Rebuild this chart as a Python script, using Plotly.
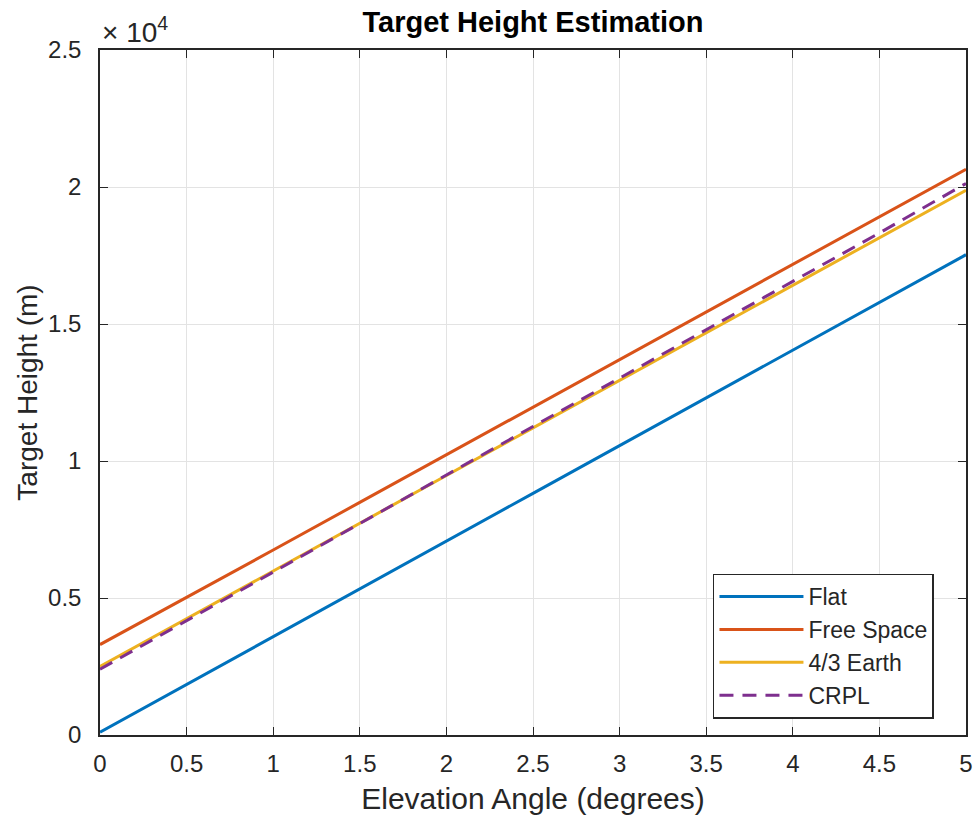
import plotly.graph_objects as go

elevation = [0, 0.5, 1, 1.5, 2, 2.5, 3, 3.5, 4, 4.5, 5]
flat = [100, 1850, 3590, 5340, 7080, 8820, 10560, 12300, 14040, 15770, 17530]
free_space = [3300, 5010, 6750, 8490, 10230, 11970, 13710, 15440, 17180, 18910, 20650]
earth43 = [2500, 4250, 5990, 7730, 9470, 11210, 12950, 14680, 16420, 18150, 19880]
crpl = [2400, 4180, 5950, 7720, 9490, 11260, 13030, 14800, 16560, 18320, 20130]

x_ticks = [0, 0.5, 1, 1.5, 2, 2.5, 3, 3.5, 4, 4.5, 5]
x_ticklabels = ["0", "0.5", "1", "1.5", "2", "2.5", "3", "3.5", "4", "4.5", "5"]
y_ticks = [0, 5000, 10000, 15000, 20000, 25000]
y_ticklabels = ["0", "0.5", "1", "1.5", "2", "2.5"]

FONT = "Liberation Sans, Arial, Helvetica, sans-serif"
AX = "#262626"

fig = go.Figure()
series = [
    ("Flat", flat, "#0072BD", "solid"),
    ("Free Space", free_space, "#D95319", "solid"),
    ("4/3 Earth", earth43, "#EDB120", "solid"),
    ("CRPL", crpl, "#7E2F8E", "14px,9px"),
]
for name, ys, col, dash in series:
    fig.add_trace(go.Scatter(x=elevation, y=ys, mode="lines", name=name,
                             legendgroup=name,
                             line=dict(color=col, width=3, dash=dash)))

fig.update_layout(
    width=976, height=818,
    margin=dict(l=100, r=10, t=50, b=83, autoexpand=False),
    paper_bgcolor="white", plot_bgcolor="white",
    font=dict(family=FONT, color=AX, size=24),
    title=dict(text="<b>Target Height Estimation</b>", x=0.5, xref="paper", xanchor="center",
               y=0.973, yanchor="middle", font=dict(size=29, color="black")),
    showlegend=True,
    legend=dict(x=0.963, y=0.024, xanchor="right", yanchor="bottom",
                bgcolor="white", bordercolor=AX, borderwidth=1.5,
                font=dict(size=23, color=AX), tracegroupgap=0,
                itemwidth=84),
)
fig.update_xaxes(
    range=[0, 5], tickvals=x_ticks, ticktext=x_ticklabels,
    showgrid=True, gridcolor="#e3e3e3", gridwidth=1,
    showline=True, linecolor=AX, linewidth=1.5, mirror="ticks",
    ticks="inside", ticklen=8, tickcolor=AX, zeroline=False,
    automargin=False, ticklabelstandoff=6,
    title=dict(text="Elevation Angle (degrees)", font=dict(size=30, color=AX), standoff=12),
    tickfont=dict(size=24, color=AX),
)
fig.update_yaxes(
    range=[0, 25000], tickvals=y_ticks, ticktext=y_ticklabels,
    showgrid=True, gridcolor="#e3e3e3", gridwidth=1,
    showline=True, linecolor=AX, linewidth=1.5, mirror="ticks",
    ticks="inside", ticklen=8, tickcolor=AX, zeroline=False,
    automargin=False, ticklabelstandoff=12,
    title=dict(text="Target Height (m)", font=dict(size=28, color=AX), standoff=2),
    tickfont=dict(size=24, color=AX),
)
fig.add_annotation(text="× 10<sup>4</sup>", xref="paper", yref="paper", x=0.0, y=1.0,
                   xanchor="left", yanchor="bottom", showarrow=False,
                   font=dict(size=28, color=AX), yshift=0)

fig.write_html("out.html", config={"displayModeBar": False},
               post_script="document.body.style.margin='0px';")
